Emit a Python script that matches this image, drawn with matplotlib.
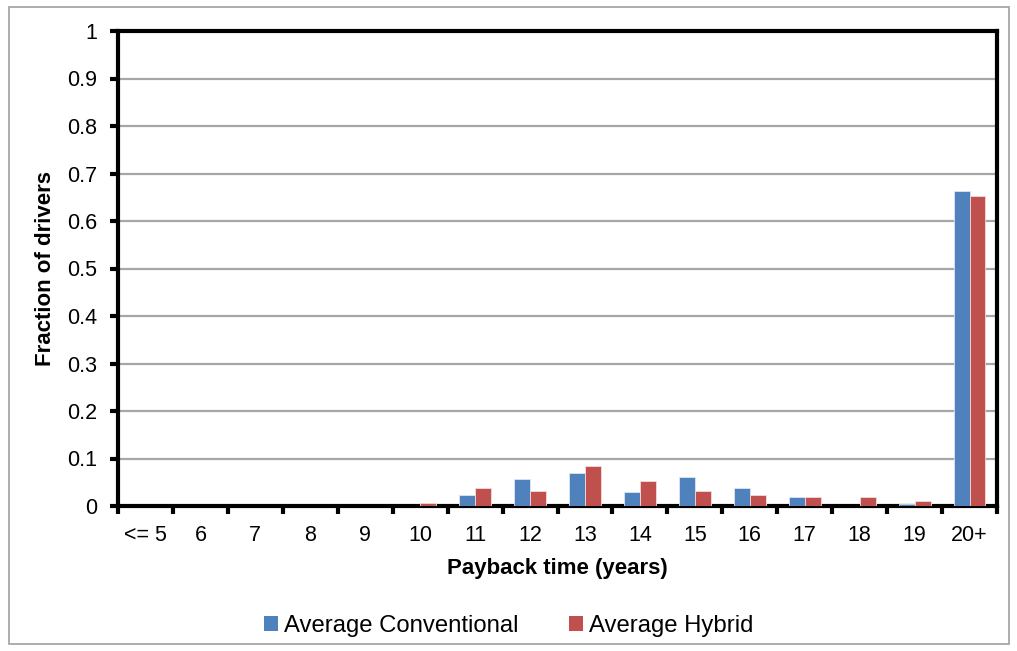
import matplotlib
matplotlib.use("Agg")
import matplotlib.pyplot as plt
import numpy as np
from matplotlib.patches import Rectangle

plt.rcParams['font.family'] = ['Liberation Sans', 'DejaVu Sans']

categories = ["<= 5", "6", "7", "8", "9", "10", "11", "12", "13", "14",
              "15", "16", "17", "18", "19", "20+"]
conventional = [0, 0, 0, 0, 0, 0, 0.023, 0.056, 0.070, 0.030,
                0.061, 0.038, 0.019, 0, 0.005, 0.664]
hybrid = [0, 0, 0, 0, 0, 0.006, 0.038, 0.032, 0.085, 0.053,
          0.032, 0.023, 0.019, 0.019, 0.011, 0.652]
yticks = [0, 0.1, 0.2, 0.3, 0.4, 0.5, 0.6, 0.7, 0.8, 0.9, 1]
ytick_labels = ["0", "0.1", "0.2", "0.3", "0.4", "0.5", "0.6", "0.7", "0.8", "0.9", "1"]

blue = "#4F81BD"
red = "#C0504D"

fig = plt.figure(figsize=(10.17, 6.51), dpi=100)
ax = fig.add_axes([118 / 1017, 1 - 506 / 651, (997 - 118) / 1017, (506 - 31) / 651])

x = np.arange(len(categories))
w = 0.29


def edge_widths(values):
    # no outline on empty bars, so nothing sits on the baseline
    return [0.6 if v > 0 else 0 for v in values]


ax.bar(x - w / 2, conventional, width=w, color=blue, edgecolor="#DCE6F2",
       linewidth=edge_widths(conventional), label="Average Conventional", zorder=3)
ax.bar(x + w / 2, hybrid, width=w, color=red, edgecolor="#F2DCDB",
       linewidth=edge_widths(hybrid), label="Average Hybrid", zorder=3)

ax.set_xlim(-0.5, len(categories) - 0.5)
ax.set_ylim(0, 1)
ax.set_yticks(yticks)
ax.set_yticklabels(ytick_labels, fontsize=15.5)
ax.yaxis.grid(True, color="#A6A6A6", linewidth=1.6, zorder=0)
ax.set_axisbelow(True)

ax.set_xticks(x)
ax.set_xticklabels(categories, fontsize=15.5)
ax.tick_params(axis="x", length=0, pad=14)
ax.set_xticks(np.arange(len(categories) + 1) - 0.5, minor=True)
ax.tick_params(axis="x", which="minor", length=6, width=3, direction="out", color="black")
ax.tick_params(axis="y", length=6, width=3, direction="out", pad=9)

for s in ax.spines.values():
    s.set_linewidth(3)
    s.set_color("black")

ax.set_xlabel("Payback time (years)", fontsize=16, fontweight="bold", labelpad=8)
ax.set_ylabel("Fraction of drivers", fontsize=16, fontweight="bold", labelpad=8)

fig.legend(loc="center", bbox_to_anchor=(0.5, 1 - 626 / 651), ncol=2, frameon=False,
           fontsize=17.2, handlelength=0.6, handleheight=0.6, handletextpad=0.25,
           columnspacing=2.1)

fig.patches.append(Rectangle((9 / 1017, 7 / 651), 1000 / 1017, 637 / 651, transform=fig.transFigure,
                             fill=False, edgecolor="#A0A0A0", linewidth=1.2))

fig.savefig("out.png", dpi=100)
